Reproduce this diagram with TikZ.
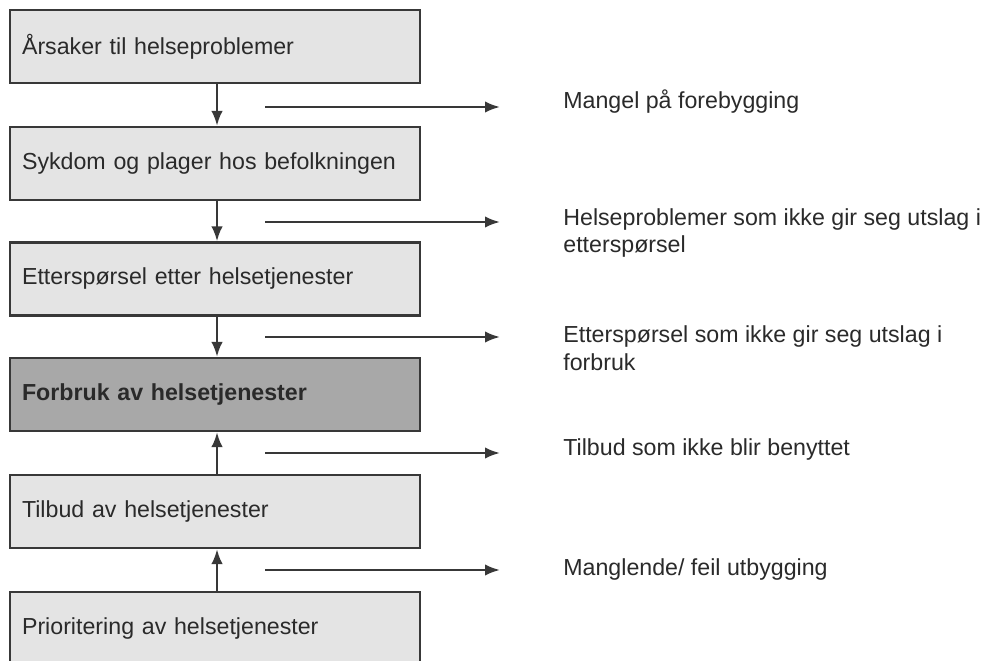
\documentclass[tikz,border=0pt]{standalone}
\usepackage{fontspec}
\setmainfont{Liberation Sans}
\usetikzlibrary{arrows.meta}
\definecolor{boxgray}{HTML}{E4E4E4}
\definecolor{usegray}{HTML}{A8A8A8}
\definecolor{linegray}{HTML}{383838}
\definecolor{textgray}{HTML}{2A2A2A}
\tikzset{
  chainbox/.style={draw=linegray, line width=1.3pt, fill=boxgray, text=textgray,
    minimum width=8.2cm, minimum height=1.46cm, text width=7.72cm, inner xsep=0.24cm,
    align=left, font=\fontsize{13.2}{15.8}\selectfont},
  lossnote/.style={anchor=west, align=left, inner sep=0pt, text=textgray,
    font=\fontsize{13.2}{15.8}\selectfont},
  flow/.style={draw=linegray, line width=1.4pt, -{Latex[length=8.5pt,width=6.5pt]}}
}
\begin{document}
\begin{tikzpicture}[x=0.02cm,y=-0.02cm]
\clip (0,0) rectangle (986,661);
\fill[white] (0,0) rectangle (986,661);
% left chain
\node[chainbox] (cause) at (215,46.5) {Årsaker til helseproblemer};
\node[chainbox] (illness) at (215,163.5) {Sykdom og plager hos befolkningen};
\node[chainbox] (demand) at (215,279) {Etterspørsel etter helsetjenester};
\node[chainbox, fill=usegray] (use) at (215,394.5) {\textbf{Forbruk av helsetjenester}};
\node[chainbox] (supply) at (215,511.5) {Tilbud av helsetjenester};
\node[chainbox] (prio) at (215,628.5) {Prioritering av helsetjenester};
\draw[flow] ([xshift=0.04cm]cause.south) -- ([xshift=0.04cm]illness.north);
\draw[flow] ([xshift=0.04cm]illness.south) -- ([xshift=0.04cm]demand.north);
\draw[flow] ([xshift=0.04cm]demand.south) -- ([xshift=0.04cm]use.north);
\draw[flow] ([xshift=0.04cm]supply.north) -- ([xshift=0.04cm]use.south);
\draw[flow] ([xshift=0.04cm]prio.north) -- ([xshift=0.04cm]supply.south);
% losses on the right
\node[lossnote] (noprev) at (563,102) {Mangel på forebygging};
\node[lossnote] (nodemand) at (563,233) {Helseproblemer som ikke gir seg utslag i\\etterspørsel};
\node[lossnote] (nouse) at (563,348) {Etterspørsel som ikke gir seg utslag i\\forbruk};
\node[lossnote] (unused) at (563,450) {Tilbud som ikke blir benyttet};
\node[lossnote] (badbuild) at (563,570) {Manglende/ feil utbygging};
\coordinate (l1) at (265,107); \coordinate (r1) at (500,107);
\coordinate (l2) at (265,222); \coordinate (r2) at (500,222);
\coordinate (l3) at (265,337); \coordinate (r3) at (500,337);
\coordinate (l4) at (265,453); \coordinate (r4) at (500,453);
\coordinate (l5) at (265,570); \coordinate (r5) at (500,570);
\draw[flow] (l1) -- (r1);
\draw[flow] (l2) -- (r2);
\draw[flow] (l3) -- (r3);
\draw[flow] (l4) -- (r4);
\draw[flow] (l5) -- (r5);
\end{tikzpicture}
\end{document}
